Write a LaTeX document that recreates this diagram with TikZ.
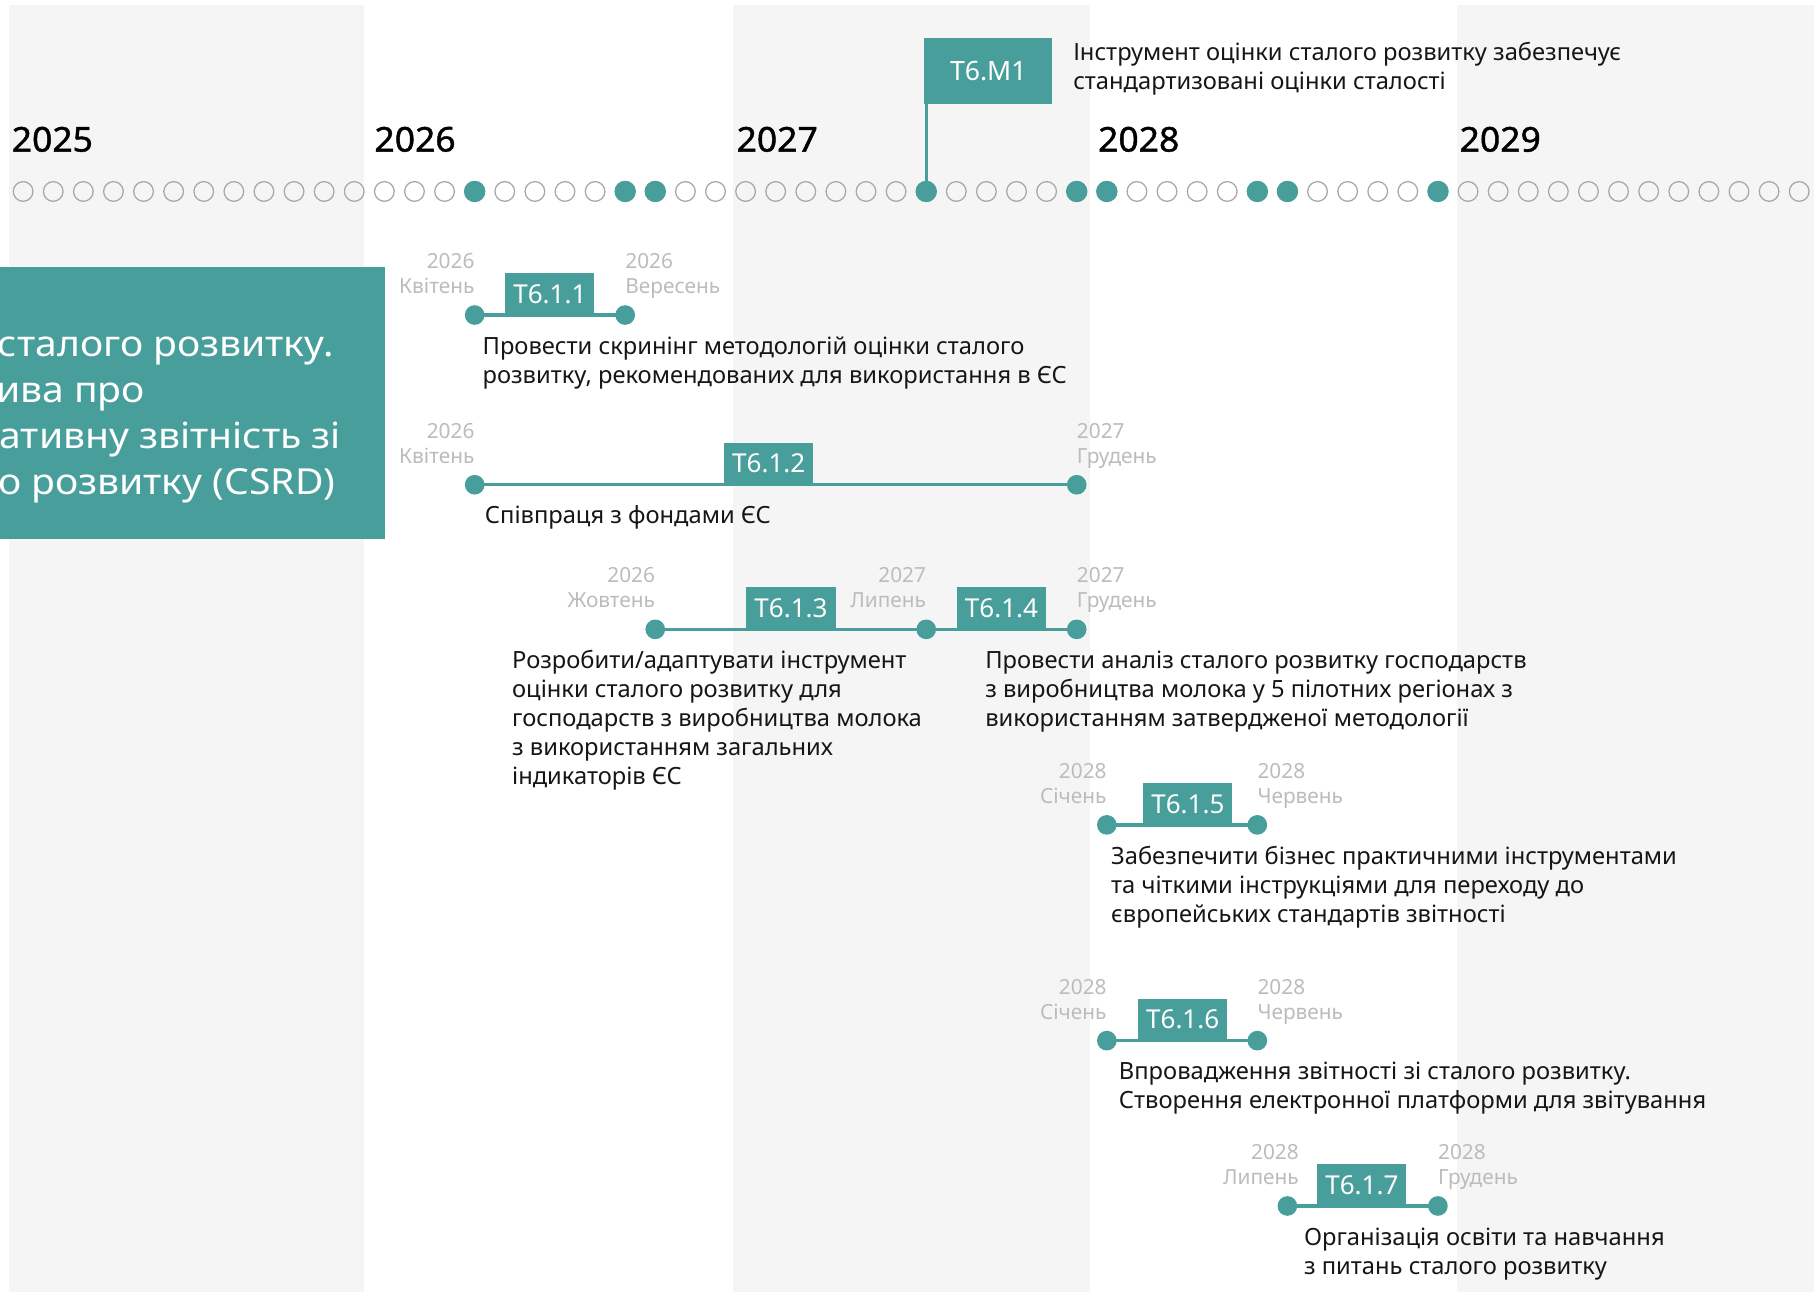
\documentclass[tikz,border=0pt]{standalone}
\usepackage{fontspec}
\setmainfont{Noto Sans}
\newfontfamily\yearfont[FakeBold=1.2]{Noto Sans}
\definecolor{teal1}{RGB}{72,158,155}
\definecolor{bandgray}{RGB}{245,245,245}
\definecolor{dategray}{RGB}{188,188,188}
\definecolor{dotgray}{RGB}{168,168,168}
\definecolor{ink}{RGB}{22,22,22}
\tikzset{
  yearlbl/.style={anchor=base west, inner sep=0pt, text=black, font=\yearfont\fontsize{29.5}{35}\selectfont},
  mdot/.style={circle, draw=dotgray, line width=1.1pt, minimum size=17pt, inner sep=0pt},
  mdotfill/.style={circle, fill=teal1, minimum size=18.5pt, inner sep=0pt},
  enddot/.style={circle, fill=teal1, minimum size=17pt, inner sep=0pt},
  bar/.style={draw=teal1, line width=3pt},
  pole/.style={draw=teal1, line width=2.4pt},
  taskbox/.style={fill=teal1, text=white, minimum width=77pt, minimum height=36pt, inner sep=0pt, anchor=south, font=\fontsize{22.5}{28}\selectfont},
  datel/.style={anchor=north east, align=right, inner sep=0pt, text=dategray, font=\fontsize{18}{21.6}\selectfont},
  dater/.style={anchor=north west, align=left, inner sep=0pt, text=dategray, font=\fontsize{18}{21.6}\selectfont},
  desc/.style={anchor=north west, align=left, inner sep=0pt, text=ink, font=\fontsize{20.5}{25}\selectfont},
  bigtxt/.style={anchor=base east, inner sep=0pt, text=white, font=\fontsize{31}{39.5}\selectfont},
}
\newcommand{\widen}[1]{\scalebox{1.09}[1]{#1}}
\newcommand{\yw}[1]{\scalebox{1.04}[1]{#1}}
\begin{document}
\begin{tikzpicture}[x=1pt,y=-1pt]
\useasboundingbox (0,0) rectangle (1568,1117);
\fill[white] (0,0) rectangle (1568,1117);
% year bands
\fill[bandgray] (8,4.3) rectangle (315,1117);
\fill[bandgray] (634,4.3) rectangle (942,1117);
\fill[bandgray] (1259,4.3) rectangle (1568,1117);
% year labels
\node[yearlbl] (y2025) at (10,131) {\yw{2025}};
\node[yearlbl] (y2026) at (323.5,131) {\yw{2026}};
\node[yearlbl] (y2027) at (636.5,131) {\yw{2027}};
\node[yearlbl] (y2028) at (949,131) {\yw{2028}};
\node[yearlbl] (y2029) at (1261.5,131) {\yw{2029}};
% month dots
\foreach \i in {0,...,59} {
  \node[mdot] (d\i) at ({20+26.02*\i},165.5) {};
}
% milestone pole and flag
\node[fill=teal1, text=white, minimum width=110.5pt, minimum height=56.5pt, inner sep=0pt, anchor=north west, font=\fontsize{23}{28}\selectfont] (m1) at (798.8,33) {T6.M1};
\draw[pole] (d30.center) -- (d30.center |- m1.south);
\foreach \i in {15,20,21,30,35,36,41,42,47} {
  \node[mdotfill] (f\i) at (d\i) {};
}
\node[desc] (m1t) at (927.5,34.5) {\strut Інструмент оцінки сталого розвитку забезпечує\\стандартизовані оцінки сталості};
% big CSRD box
\node[fill=teal1, minimum width=332.5pt, minimum height=234.5pt, inner sep=0pt, anchor=north west] (csrd) at (0,231) {};
\begin{scope}
\clip (0,231) rectangle (332.5,465.5);
\node[bigtxt] (c1) at (288.5,308.5) {\widen{сталого розвитку.}};
\node[bigtxt] (c2) at (125.5,348) {\widen{ива про}};
\node[bigtxt] (c3) at (295,387.5) {\widen{ативну звітність зі}};
\node[bigtxt] (c4) at (290,427) {\widen{о розвитку (CSRD)}};
\end{scope}
% T6.1.1
\node[enddot] (a1s) at (410.3,272.3) {};
\node[enddot] (a1e) at (540.4,272.3) {};
\draw[bar] (a1s.center) -- (a1e.center);
\node[taskbox] (b1) at (475.3,272.3) {T6.1.1};
\node[datel] (a1sl) at (410.3,216.8) {\strut 2026\\Квітень};
\node[dater] (a1el) at (540.4,216.8) {\strut 2026\\Вересень};
\node[desc] (a1d) at (417,288.5) {\strut Провести скринінг методологій оцінки сталого\\розвитку, рекомендованих для використання в ЄС};
% T6.1.2
\node[enddot] (a2s) at (410.3,419) {};
\node[enddot] (a2e) at (930.7,419) {};
\draw[bar] (a2s.center) -- (a2e.center);
\node[taskbox] (b2) at (664.5,419) {T6.1.2};
\node[datel] (a2sl) at (410.3,363.5) {\strut 2026\\Квітень};
\node[dater] (a2el) at (930.7,363.5) {\strut 2027\\Грудень};
\node[desc] (a2d) at (419,434.8) {\strut Співпраця з фондами ЄС};
% T6.1.3 and T6.1.4
\node[enddot] (a3s) at (566.4,544) {};
\node[enddot] (a3e) at (800.6,544) {};
\node[enddot] (a4e) at (930.7,544) {};
\draw[bar] (a3s.center) -- (a3e.center);
\draw[bar] (a3e.center) -- (a4e.center);
\node[taskbox] (b3) at (683.7,544) {T6.1.3};
\node[taskbox] (b4) at (865.7,544) {T6.1.4};
\node[datel] (a3sl) at (566.4,488.5) {\strut 2026\\Жовтень};
\node[datel] (a3el) at (800.6,488.5) {\strut 2027\\Липень};
\node[dater] (a4el) at (930.7,488.5) {\strut 2027\\Грудень};
\node[desc] (a3d) at (442.5,560) {\strut Розробити/адаптувати інструмент\\оцінки сталого розвитку для\\господарств з виробництва молока\\з використанням загальних\\індикаторів ЄС};
\node[desc] (a4d) at (851.5,560) {\strut Провести аналіз сталого розвитку господарств\\з виробництва молока у 5 пілотних регіонах з\\використанням затвердженої методології};
% T6.1.5
\node[enddot] (a5s) at (956.7,713) {};
\node[enddot] (a5e) at (1086.8,713) {};
\draw[bar] (a5s.center) -- (a5e.center);
\node[taskbox] (b5) at (1026.8,713) {T6.1.5};
\node[datel] (a5sl) at (956.7,657.5) {\strut 2028\\Січень};
\node[dater] (a5el) at (1086.8,657.5) {\strut 2028\\Червень};
\node[desc] (a5d) at (960.3,729.3) {\strut Забезпечити бізнес практичними інструментами\\та чіткими інструкціями для переходу до\\європейських стандартів звітності};
% T6.1.6
\node[enddot] (a6s) at (956.7,899.5) {};
\node[enddot] (a6e) at (1086.8,899.5) {};
\draw[bar] (a6s.center) -- (a6e.center);
\node[taskbox] (b6) at (1022.3,899.5) {T6.1.6};
\node[datel] (a6sl) at (956.7,844) {\strut 2028\\Січень};
\node[dater] (a6el) at (1086.8,844) {\strut 2028\\Червень};
\node[desc] (a6d) at (967,915.2) {\strut Впровадження звітності зі сталого розвитку.\\Створення електронної платформи для звітування};
% T6.1.7
\node[enddot] (a7s) at (1112.8,1042.4) {};
\node[enddot] (a7e) at (1242.9,1042.4) {};
\draw[bar] (a7s.center) -- (a7e.center);
\node[taskbox] (b7) at (1177.2,1042.4) {T6.1.7};
\node[datel] (a7sl) at (1122.8,986.9) {\strut 2028\\Липень};
\node[dater] (a7el) at (1242.9,986.9) {\strut 2028\\Грудень};
\node[desc] (a7d) at (1127,1058.7) {\strut Організація освіти та навчання\\з питань сталого розвитку};
\end{tikzpicture}
\end{document}
